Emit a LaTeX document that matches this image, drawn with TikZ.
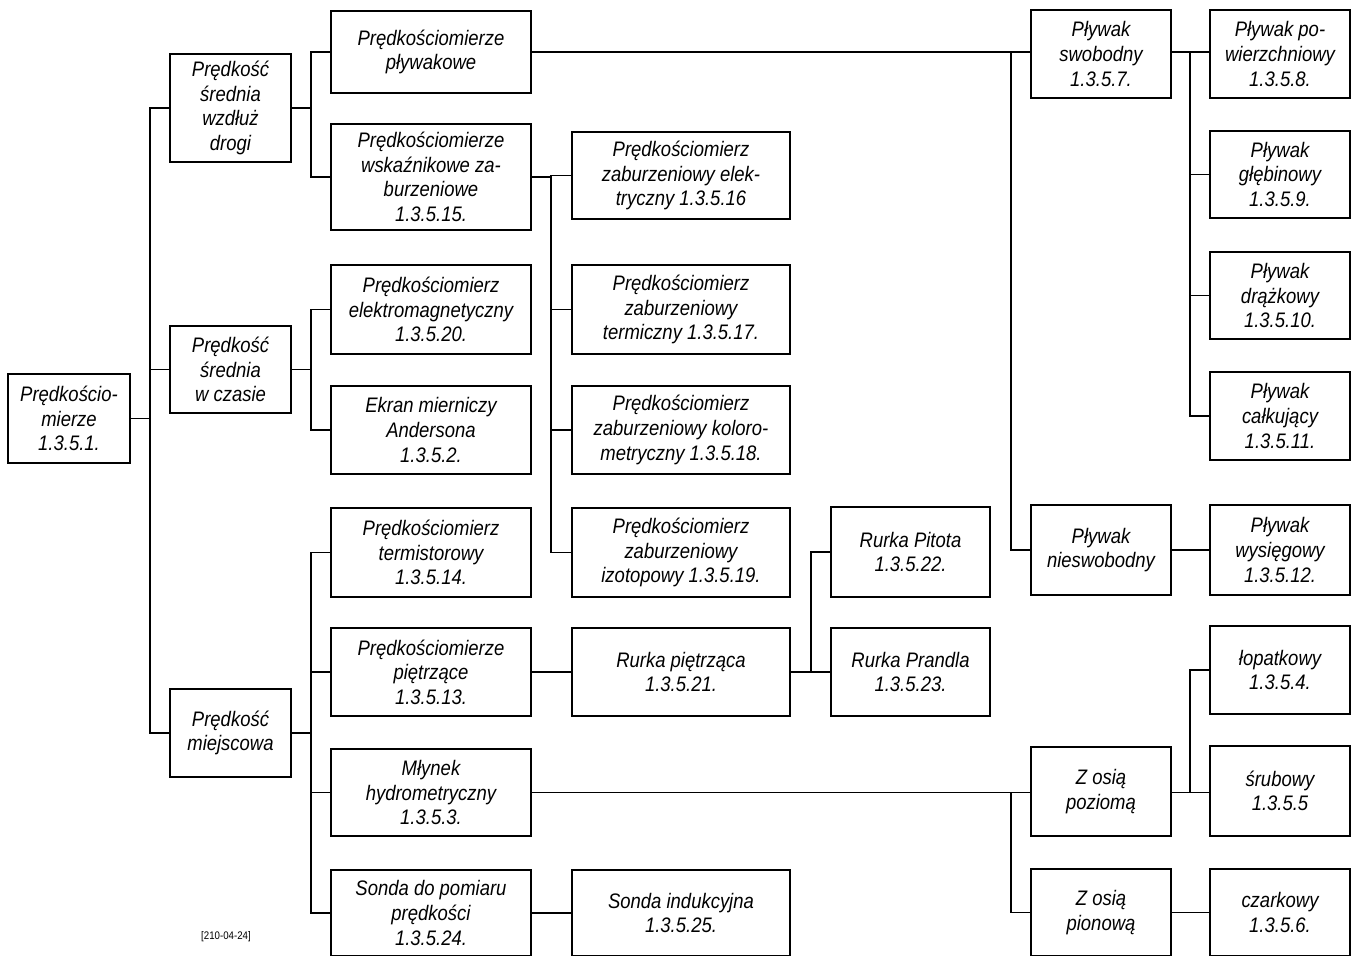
\documentclass[tikz,border=0pt]{standalone}
\usepackage{fontspec}
\newfontfamily\lab{Liberation Sans}[FakeStretch=0.88]
\tikzset{
  box/.style={draw=black, line width=1pt, rectangle, inner sep=0pt, outer sep=0pt,
    align=center, font=\lab\itshape\fontsize{10.5}{12.3}\selectfont},
  conn/.style={draw=black, line width=0.8pt}
}
\newcommand{\boxnode}[6]{%
  \node[box, minimum width={(#4-#2)*0.5pt}, minimum height={(#5-#3)*0.5pt}] (#1) at ({(#2+#4)/2},{(#3+#5)/2}) {#6};}
\begin{document}
\begin{tikzpicture}[x=0.5pt,y=-0.5pt]
\useasboundingbox (0,0) rectangle (1362,956);
% column 1
\boxnode{root}{8}{374}{130}{463}{Prędkościo-\\mierze\\1.3.5.1.}
% column 2
\boxnode{c2a}{170}{54}{291}{162}{Prędkość\\średnia\\wzdłuż\\drogi}
\boxnode{c2b}{170}{326}{291}{413}{Prędkość\\średnia\\w czasie}
\boxnode{c2c}{170}{689}{291}{777}{Prędkość\\miejscowa}
% column 3
\boxnode{p1}{331}{11}{531}{93}{Prędkościomierze\\pływakowe}
\boxnode{p2}{331}{124}{531}{230}{Prędkościomierze\\wskaźnikowe za-\\burzeniowe\\1.3.5.15.}
\boxnode{p3}{331}{265}{531}{354}{Prędkościomierz\\elektromagnetyczny\\1.3.5.20.}
\boxnode{p4}{331}{386}{531}{474}{Ekran mierniczy\\Andersona\\1.3.5.2.}
\boxnode{p5}{331}{508}{531}{597}{Prędkościomierz\\termistorowy\\1.3.5.14.}
\boxnode{p6}{331}{628}{531}{716}{Prędkościomierze\\piętrzące\\1.3.5.13.}
\boxnode{p7}{331}{749}{531}{836}{Młynek\\hydrometryczny\\1.3.5.3.}
\boxnode{p8}{331}{870}{531}{956}{Sonda do pomiaru\\prędkości\\1.3.5.24.}
% column 4
\boxnode{q1}{572}{132}{790}{219}{Prędkościomierz\\zaburzeniowy elek-\\tryczny 1.3.5.16}
\boxnode{q2}{572}{265}{790}{354}{Prędkościomierz\\zaburzeniowy\\termiczny 1.3.5.17.}
\boxnode{q3}{572}{386}{790}{474}{Prędkościomierz\\zaburzeniowy koloro-\\metryczny 1.3.5.18.}
\boxnode{q4}{572}{508}{790}{597}{Prędkościomierz\\zaburzeniowy\\izotopowy 1.3.5.19.}
\boxnode{q5}{572}{628}{790}{716}{Rurka piętrząca\\1.3.5.21.}
\boxnode{q6}{572}{870}{790}{956}{Sonda indukcyjna\\1.3.5.25.}
% column 5
\boxnode{r1}{831}{507}{990}{597}{Rurka Pitota\\1.3.5.22.}
\boxnode{r2}{831}{628}{990}{716}{Rurka Prandla\\1.3.5.23.}
% column 6
\boxnode{s1}{1031}{10}{1171}{98}{Pływak\\swobodny\\1.3.5.7.}
\boxnode{s2}{1031}{505}{1171}{595}{Pływak\\nieswobodny}
\boxnode{s3}{1031}{747}{1171}{836}{Z osią\\poziomą}
\boxnode{s4}{1031}{869}{1171}{956}{Z osią\\pionową}
% column 7
\boxnode{t1}{1210}{10}{1350}{98}{Pływak po-\\wierzchniowy\\1.3.5.8.}
\boxnode{t2}{1210}{131}{1350}{218}{Pływak\\głębinowy\\1.3.5.9.}
\boxnode{t3}{1210}{252}{1350}{339}{Pływak\\drążkowy\\1.3.5.10.}
\boxnode{t4}{1210}{372}{1350}{460}{Pływak\\całkujący\\1.3.5.11.}
\boxnode{t5}{1210}{505}{1350}{595}{Pływak\\wysięgowy\\1.3.5.12.}
\boxnode{t6}{1210}{626}{1350}{714}{łopatkowy\\1.3.5.4.}
\boxnode{t7}{1210}{746}{1350}{836}{śrubowy\\1.3.5.5}
\boxnode{t8}{1210}{869}{1350}{956}{czarkowy\\1.3.5.6.}
% stamp
\node[font=\lab\fontsize{5.5}{6}\selectfont, inner sep=0pt] (stamp) at (226,937) {[210-04-24]};
% junction x positions
\coordinate (ja) at (150,0);
\coordinate (jb) at (311,0);
\coordinate (jc) at (551,0);
\coordinate (jd) at (811,0);
\coordinate (je) at (1011,0);
\coordinate (jf) at (1190,0);
% root -> column 2
\draw[conn] (root.east) -- (root.east -| ja);
\draw[conn] (c2a.west) -- (c2a.west -| ja) -- (c2c.west -| ja) -- (c2c.west);
\draw[conn] (c2b.west) -- (c2b.west -| ja);
% column 2 -> column 3
\draw[conn] (c2a.east) -- (c2a.east -| jb);
\draw[conn] (p1.west) -- (p1.west -| jb) -- (p2.west -| jb) -- (p2.west);
\draw[conn] (c2b.east) -- (c2b.east -| jb);
\draw[conn] (p3.west) -- (p3.west -| jb) -- (p4.west -| jb) -- (p4.west);
\draw[conn] (c2c.east) -- (c2c.east -| jb);
\draw[conn] (p5.west) -- (p5.west -| jb) -- (p8.west -| jb) -- (p8.west);
\draw[conn] (p6.west) -- (p6.west -| jb);
\draw[conn] (p7.west) -- (p7.west -| jb);
% p2 -> column 4
\draw[conn] (p2.east) -- (p2.east -| jc);
\draw[conn] (q1.west) -- (q1.west -| jc) -- (q4.west -| jc) -- (q4.west);
\draw[conn] (q2.west) -- (q2.west -| jc);
\draw[conn] (q3.west) -- (q3.west -| jc);
% direct links
\draw[conn] (p6.east) -- (q5.west);
\draw[conn] (p8.east) -- (q6.west);
% q5 -> column 5
\draw[conn] (q5.east) -- (r2.west);
\draw[conn] (r1.west) -- (r1.west -| jd) -- (r2.west -| jd);
% p1 -> floats
\draw[conn] (p1.east) -- (s1.west |- p1.east);
\draw[conn] (je |- p1.east) -- (s2.west -| je) -- (s2.west);
% s1 -> column 7
\draw[conn] (s1.east |- p1.east) -- (t1.west |- p1.east);
\draw[conn] (jf |- p1.east) -- (t4.west -| jf) -- (t4.west);
\draw[conn] (t2.west) -- (t2.west -| jf);
\draw[conn] (t3.west) -- (t3.west -| jf);
\draw[conn] (s2.east) -- (t5.west);
% p7 -> axes
\draw[conn] (p7.east) -- (s3.west |- p7.east);
\draw[conn] (je |- p7.east) -- (s4.west -| je) -- (s4.west);
\draw[conn] (s3.east |- p7.east) -- (t7.west |- p7.east);
\draw[conn] (t6.west) -- (t6.west -| jf) -- (jf |- p7.east);
\draw[conn] (s4.east) -- (t8.west);
\end{tikzpicture}
\end{document}
